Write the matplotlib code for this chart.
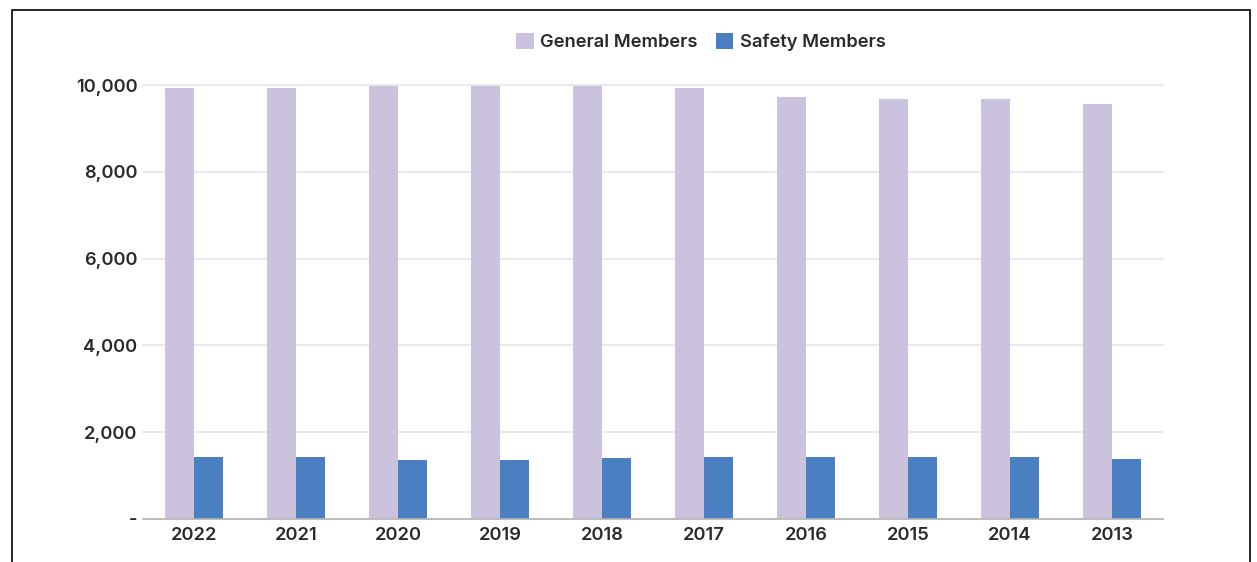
import matplotlib
matplotlib.use("Agg")
import matplotlib.pyplot as plt
import numpy as np
from matplotlib.patches import Rectangle

years = ["2022", "2021", "2020", "2019", "2018", "2017", "2016", "2015", "2014", "2013"]
general = [9920, 9920, 9980, 9980, 9980, 9920, 9730, 9670, 9680, 9555]
safety = [1420, 1420, 1360, 1360, 1400, 1435, 1435, 1420, 1420, 1380]
yticks = [0, 2000, 4000, 6000, 8000, 10000]
ytick_labels = ["-", "2,000", "4,000", "6,000", "8,000", "10,000"]

plt.rcParams['font.family'] = ['Inter', 'DejaVu Sans']
plt.rcParams['font.weight'] = 'semibold'
txt = '#2a2a2a'
fs = 13.2

fig = plt.figure(figsize=(12.57, 5.62), dpi=100)
ax = fig.add_axes([143/1257, 1-519/562, 1020/1257, 434/562])

x = np.arange(len(years))
w = 0.285
ax.bar(x - w/2, general, w, color='#cbc3de', label='General Members', zorder=2)
ax.bar(x + w/2, safety, w, color='#4a80c2', label='Safety Members', zorder=2)

ax.set_xlim(-0.5, len(years) - 0.5)
ax.set_ylim(0, 10000)
ax.set_yticks(yticks)
ax.set_yticklabels(ytick_labels)
ax.set_xticks(x)
ax.set_xticklabels(years)
ax.grid(axis='y', color='#e6e6e6', linewidth=1.2, zorder=0)
for g in ax.get_ygridlines():
    g.set_clip_on(False)
for s in ['top', 'right', 'left']:
    ax.spines[s].set_visible(False)
ax.spines['bottom'].set_color('#b5b5b5')
ax.spines['bottom'].set_linewidth(1.2)
ax.spines['bottom'].set_zorder(3)
ax.tick_params(axis='both', length=0, labelsize=fs, labelcolor=txt)
ax.tick_params(axis='y', pad=4)
ax.tick_params(axis='x', pad=6)

ax.legend(loc='center', bbox_to_anchor=(701/1257, 1-42/562), bbox_transform=fig.transFigure,
          ncol=2, frameon=False, fontsize=fs, handlelength=0.95, handleheight=0.95,
          handletextpad=0.35, columnspacing=1.0, labelcolor=txt)

# outer frame
fig.patches.append(Rectangle((12/1257, -0.1), (1250-12)/1257, 1.1 - 10/562, transform=fig.transFigure,
                             fill=False, edgecolor='black', linewidth=1.2))

fig.savefig('out.png', dpi=100)
